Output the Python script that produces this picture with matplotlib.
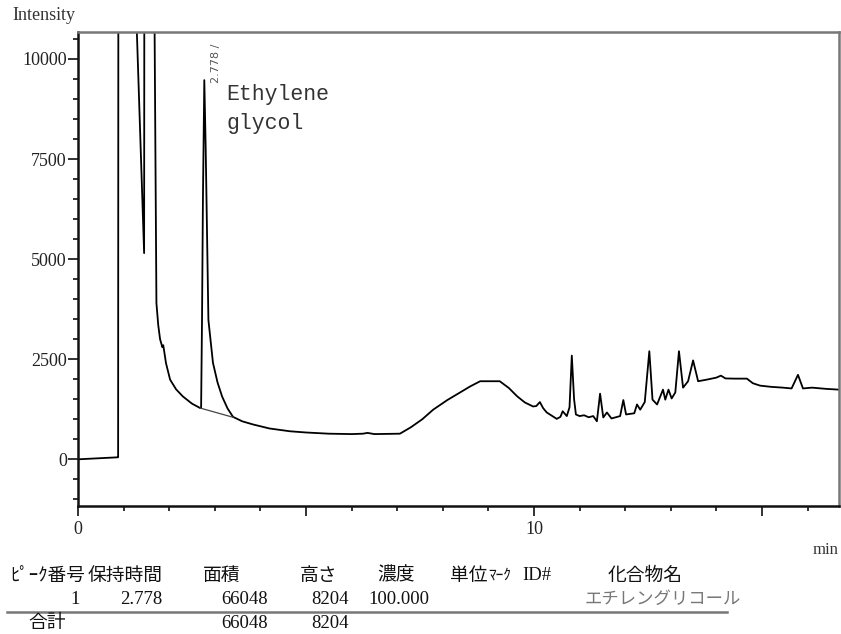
import matplotlib
matplotlib.use("Agg")
import matplotlib.pyplot as plt
from matplotlib.ticker import MultipleLocator

# chromatogram trace (min, intensity); values above the frame are clipped
time_min = [0.0, 0.87, 0.88, 0.885, 1.29, 1.45, 1.455, 1.68, 1.72, 1.76, 1.80, 1.85, 1.87,
            1.89, 1.93, 2.02, 2.15, 2.30, 2.50, 2.68, 2.70, 2.72, 2.74, 2.77, 2.80, 2.86,
            2.96, 3.06, 3.16, 3.28, 3.40, 3.60, 3.84, 4.20, 4.65, 5.00, 5.50, 6.00, 6.25,
            6.35, 6.50, 7.06, 7.30, 7.55, 7.79, 8.10, 8.38, 8.60, 8.82, 9.25, 9.45, 9.63,
            9.80, 9.98, 10.05, 10.13, 10.20, 10.28, 10.50, 10.58, 10.63, 10.72, 10.78,
            10.83, 10.88, 10.92, 11.00, 11.10, 11.20, 11.30, 11.38, 11.45, 11.52, 11.60,
            11.70, 11.89, 11.96, 12.02, 12.20, 12.26, 12.33, 12.43, 12.53, 12.60, 12.70,
            12.83, 12.88, 12.95, 13.02, 13.10, 13.18, 13.27, 13.38, 13.49, 13.60, 13.79,
            14.00, 14.10, 14.20, 14.40, 14.67, 14.80, 14.96, 15.20, 15.46, 15.65, 15.79,
            15.90, 16.10, 16.40, 16.69]
intensity = [0, 50, 50, 12000, 10700, 5150, 12000, 10700, 3900, 3350, 3000, 2800, 2850,
             2700, 2400, 1990, 1750, 1570, 1390, 1280, 1290, 3500, 6500, 9470, 7800, 3480,
             2410, 1920, 1570, 1270, 1060, 950, 870, 770, 700, 670, 640, 630, 640,
             660, 630, 640, 800, 1000, 1240, 1480, 1670, 1820, 1950, 1950, 1780, 1575,
             1420, 1320, 1330, 1430, 1280, 1170, 1010, 1060, 1200, 1080, 1300,
             2590, 1500, 1120, 1080, 1100, 1050, 1080, 950, 1640, 1045, 1170,
             1020, 1080, 1480, 1120, 1150, 1370, 1240, 1430, 2700, 1490, 1370,
             1740, 1490, 1740, 1520, 1670, 2700, 1790, 1950, 2470, 1950, 1990,
             2040, 2090, 2020, 2015, 2015, 1900, 1840, 1810, 1790, 1770, 2110,
             1770, 1790, 1760, 1740]

# integration baseline under the ethylene glycol peak
base_t = [2.68, 3.40]
base_i = [1280, 1050]

peak_rt = 2.778
peak_name = "Ethylene\nglycol"

# result table
headers = ["ﾋﾟｰｸ番号", "保持時間", "面積", "高さ", "濃度", "単位", "ﾏｰｸ", "ID#", "化合物名"]
row_values = ["1", "2.778", "66048", "8204", "100.000"]
compound = "エチレングリコール"
total_label = "合計"
total_values = ["66048", "8204"]

plt.rcParams['font.family'] = ["Liberation Serif", "Noto Sans CJK JP"]

fig = plt.figure(figsize=(8.41, 6.34), dpi=100)
ax = fig.add_axes([78/841, 1 - 506/634, 761/841, 474/634])

ax.plot(time_min, intensity, color="black", lw=1.3)
ax.plot(base_t, base_i, color="#444444", lw=0.9)

ax.set_xlim(0, 16.69)
ax.set_ylim(-1166, 10672)

ax.xaxis.set_minor_locator(MultipleLocator(1))
ax.yaxis.set_minor_locator(MultipleLocator(500))
ax.set_xticks([0, 5, 10, 15])
ax.set_xticklabels(["0", "", "10", ""])
ax.set_yticks([0, 2500, 5000, 7500, 10000])
ax.set_yticklabels(["0", "2500", "5000", "7500", "10000"])

ax.tick_params(which="major", direction="out", length=7, width=1.3, labelsize=13,
               colors="#222222", pad=1)
ax.tick_params(which="minor", direction="out", length=3.5, width=1.3, colors="#222222")
ax.tick_params(axis="x", pad=4)

for side in ["left", "bottom"]:
    ax.spines[side].set_linewidth(1.8)
    ax.spines[side].set_color("#111111")
for side in ["top", "right"]:
    ax.spines[side].set_linewidth(1.8)
    ax.spines[side].set_color("#777777")

# peak annotations
ax.text(3.03, 9400, f"{peak_rt:.3f} /", rotation=90, fontsize=8, color="#555555",
        ha="center", va="bottom", family="DejaVu Sans")
ax.text(3.25, 9380, peak_name, fontsize=15.5, color="#333333", ha="left", va="top",
        family="Liberation Mono", linespacing=1.5)

fig.text(12/841, 1 - 16/634, "Intensity", fontsize=13, color="#333333", va="center")
fig.text(838/841, 1 - 550/634, "min", fontsize=12, color="#333333", ha="right", va="center")

# table
def px(x, y):
    return x / 841, 1 - y / 634

hdr_x = [10, 88, 203, 300, 377, 450, 488, 522, 608]
for h, x in zip(headers, hdr_x):
    fs = 11 if h == "ﾏｰｸ" else 13.5
    fig.text(*px(x, 576), h, fontsize=fs, color="#111111", ha="left", va="center")

val_right = [80, 162, 268, 349, 429]
for v, x in zip(row_values, val_right):
    fig.text(*px(x, 600), v, fontsize=13.5, color="#111111", ha="right", va="center")
fig.text(*px(585, 600), compound, fontsize=12.5, color="#777777", ha="left", va="center")

fig.add_artist(plt.Line2D([7/841, 727/841], [1 - 612/634, 1 - 612/634],
                          color="#777777", lw=1.8))

fig.text(*px(28, 623), total_label, fontsize=13.5, color="#111111", ha="left", va="center")
for v, x in zip(total_values, val_right[2:4]):
    fig.text(*px(x, 623), v, fontsize=13.5, color="#111111", ha="right", va="center")

fig.savefig("out.png", dpi=100)
